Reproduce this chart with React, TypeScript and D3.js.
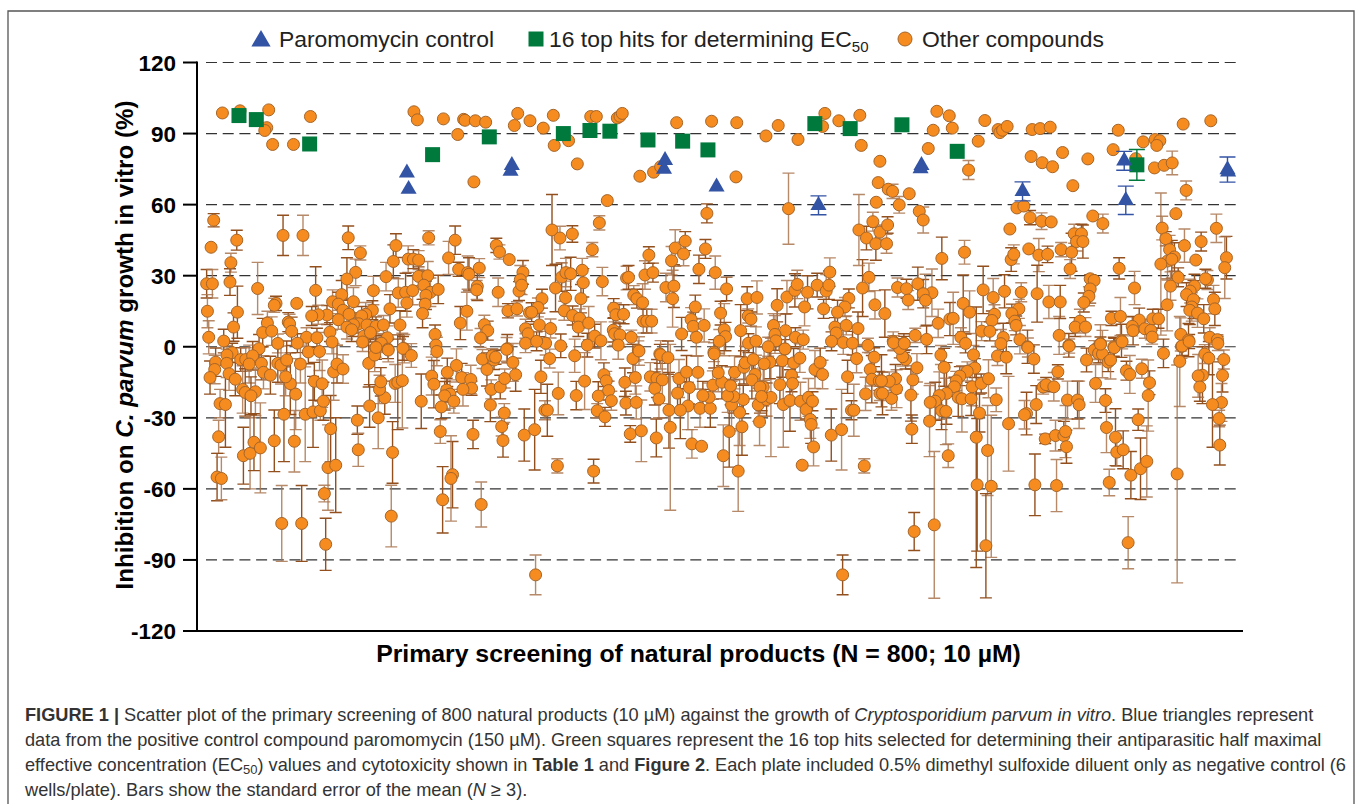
import React from "react";
import * as d3 from "d3";

type P = [number, number, number];

const yTickValues = [120, 90, 60, 30, 0, -30, -60, -90, -120];
const paromomycinX = [161, 162.3, 241.5, 240.5, 359, 358.2, 398.5, 476.7, 555.7, 555, 633.2, 711.2, 712.4, 790.4, 790.9];
const paromomycinY = [73.4, 66.5, 76.6, 74.2, 78.7, 75, 67.5, 59.7, 76.6, 75.2, 65.6, 78.5, 61.8, 74.8, 73.8];
const paromomycinErr = [0, 0, 0, 0, 0, 0, 0, 4, 0, 0, 4, 4, 6, 5.3, 0];
const topHitX = [32.2, 45.5, 86.4, 180.7, 224.2, 281, 301.4, 316.7, 345.9, 372.5, 391.9, 473.9, 501, 540.7, 583.1, 720.9];
const topHitY = [97.6, 95.9, 85.6, 81.1, 88.6, 90, 91.3, 91, 87.3, 86.8, 83.1, 94.2, 92.1, 93.7, 82.5, 76.8];
const topHitErr = [0, 0, 0, 0, 0, 0, 0, 0, 0, 0, 0, 0, 0, 0, 0, 6.5];

const otherHighValues: P[] = [
[19.5,98.7,0],[33,99.6,0],[55,100,0],[53.5,92.5,0],[52,91.3,0],[58,85.4,0],[74,85.4,0],[87,97.2,0],[166.4,99.2,0],[169,95.8,0],[189,96.2,0],[204.5,96,0],[205.6,95.6,0],[213.5,95.4,0],[221.4,94.8,0],[200,89.6,0],[246,98.5,0],[243.4,93.4,0],[255.4,95.4,0],[212.4,69.6,0],
[265.6,92.3,0],[273.3,97.7,0],[302,97.2,0],[306.3,97.2,0],[322.4,96.6,0],[324.4,97.3,0],[326.2,98.5,0],[274,85,0],[285,87,0],[291.7,77.2,0],[339.7,72,0],[350.2,73.7,0],[355.6,76,0],[367.9,94.6,0],[394.7,95.2,0],[414,94.6,0],[436.4,89,0],[445.8,93.4,0],[461,87.5,0],[479.8,93,0],[481.6,98.5,0],[492.3,95.4,0],[508.4,97.7,0],[509.5,85,0],[523.8,78.3,0],[522.5,69.3,0],[521,61,0],[413.4,71.7,0],[314.7,61.7,0],
[567.5,99.4,0],[577,97.5,0],[564.7,91.4,0],[579.3,92.3,0],[604.3,95.5,0],[560.9,83.7,0],[599.2,86.8,0],[591.8,74.6,4],[614.5,91.7,0],[615.8,90.4,0],[617.9,91.4,0],[621.4,93,0],[640.6,91.7,0],[646.7,92.1,0],[654.4,92.7,0],[639.8,80.3,0],[648.3,77.7,0],[656.2,76,0],[663.9,82,0],[683.3,79.3,0],[671.8,68,0],[702.7,83.2,0],[706.6,91.4,0],[756.4,94,0],[777.6,95.4,0],[725.7,86.5,0],[734.9,87.5,0],[738.5,87,0],[736.2,85,0],[734.4,75.5,0],[741.8,76.6,0],[748,77.6,5],[720.1,79.4,0],[758.7,66,4],
];

const otherLeftUpper: P[] = [
[12.8,53.4,2.8],[10.8,42,0],[30.5,45,4.2],[26,35.5,4],[66,47,8.5],[81.3,47,8.5],[116,46,5],[125.3,39.6,3],[152.6,42.7,5],[177.7,46,3],[198,45,6],[193,37.5,7],[150.6,36,7],[162,37,5.6],[166,37,4],[170,36.6,4],[229.6,42.8,3],[232,40,3],[239.5,36.8,0],[121.7,31.4,5.6],[115,28.6,9],[145,29.6,6],[200.7,32.7,3],[207.6,31.3,7],[208.6,30.6,7],[216.5,33.2,4],[215,25.5,6],[214.5,24,4],[250,31.4,5],[248,28.3,6],
[7.4,26.6,6],[11.8,26.6,6],[25.3,27.3,5.6],[46.5,24.6,11],[91,23.8,10],[135.3,23.7,6],[170,29.7,4],[177,30,6],[174,26,6],[179,23,6],[185,24.2,6],[154.4,22.7,6],[160,23,8],[165.4,23.7,6],[175.6,21.7,6],[175,18,6],[173,14,6],[231,23,6],[247,23.5,4],[249,26,4],[255,14.4,0],[161,18.5,6],[148,16,6],[120,19,6],[111,22,6],[104,19,5],[108.4,18,5],[112,15.4,5],[116.6,13.7,6],[108.4,11.4,4],[99.7,13.4,4],[93,13.5,4],[88,13,4],[76.5,18.3,0],[60.6,18.3,3],[59.3,17.5,3],[31,14.6,11],[8,15,7],[28,8.3,6],[54,10,5],[50.4,6,6],[57.3,6.6,6],[70,10.4,4],[71,9.7,4],[72.6,6.5,6],[9,4,7],[20.5,2.4,5],[62,1.4,4],[47.6,-0.8,6],[207,15,8],[202,10,7],[220.4,9.3,4],[223,6.8,4],[217.5,3.7,4],[238.5,15.2,3],[245.4,16,3],[134.5,15.4,4],[129.4,13.7,5],[126.3,13,4],[124,9.7,4],[120,9.3,5],[115,8.3,5],[118.6,7.2,5],[130.4,9.2,4],[137.3,8.6,4],[143,9.2,4],[155.7,9.2,6],[146,3.8,5],[102,6.2,4],[84,4,4],[92,3.8,4],[103.6,2,5],[77,1.5,4],[128,4.5,4],[133,6,4],[127,2,4],[137,-0.4,4],[141.4,1.5,4],[146.5,-1,4],[159,-0.8,6],[182.6,5.2,4],[183.3,0.7,4],[238,-0.8,6],[252,7.6,4],[254,5.5,4],[252,1.5,4],
];

const otherLeftLower: P[] = [
[27,-2.5,4],[23,-3.5,4],[14.3,-6.5,6],[13.6,-9.6,6],[10,-13,7],[22.8,-7,6],[33.5,-5.4,5],[37.4,-5.4,5],[42.7,-3.8,6],[40,-7.3,8],[49.4,-7,7],[51,-10.8,7],[56.3,-12,8],[24.6,-11.4,7],[29.4,-13.7,7],[35,-18,10],[37,-19.3,10],[44.8,-19,10],[41.4,-20.7,8],[17.7,-24,6],[21.8,-24.4,18],[16.6,-38,7],[15.4,-55,10],[18.7,-55.6,9],[35.6,-46,12],[40.7,-45,15],[43.7,-40.3,12],[48.6,-42.7,19],[59.3,-39.7,13],[74.7,-39.9,13],[66.7,-28.5,20],[83,-28.5,20],[89,-27.5,15],[94.6,-27,4],[97,-23,8],[75.7,-20,15],[71.6,-15.6,13],[68,-12.7,8],[62,-7,8],[64.4,-7.7,8],[68.8,-5.6,8],[79.3,-7.3,8],[85.4,-2.2,5],[94,-2,8],[90,-14.6,8],[96,-15.6,10],[102.5,-34.6,14],[100.5,-51,18],[106.4,-50,20],[97.7,-62,3.5],[98.7,-83.4,11],[65,-74.6,16],[80.3,-74.6,16],[104.8,-10.6,12],[107.4,-7.3,8],[112,-9.4,6],[123,-31,6],[123.7,-43.5,7],[150,-44.6,13],[149,-71.5,13],[132.4,-25,9],[139,-30,13],[144,-21.5,7],[140,-18,6],[141,-14.8,6],[152,-15.5,8],[154,-15,20],[157.5,-14.3,20],[131.7,-7,10],[136.3,-3.5,7],[137.3,-0.3,5],[146.7,-1.4,5],[158,-0.7,5],[164.4,-3.7,5],[172,-23,11.5],[180,-12.4,8],[181.7,-15.8,10],[184,-2,6],[192,-10.8,6],[199,-7.9,7],[203,-13,6],[210,-13.8,6],[210.6,-17.5,3],[204,-18,7],[191.5,-18.3,5],[194,-20,6],[190,-20.7,6],[197,-23,5],[187.4,-25.4,5],[186.6,-35.8,5],[196,-54,14],[194.8,-55.6,18],[188.4,-64.6,14],[218,-66.6,9.5],[211.7,-37,6],[233.7,-33.7,4],[234.7,-39.6,7],[235.7,-28,4],[225,-24.6,7],[225.7,-18,4],[232.6,-17,5],[236,-13.4,4],[244.4,-11.8,7],[242.3,-6.6,8],[222.4,-9.6,7],[219,-5.2,4],[227.8,-5.6,4],[226.5,-3.8,3],[229,-4.4,3],[237.5,-1.1,5],[251,-37.3,11],
];

const otherMiddleUpper: P[] = [
[308.6,52.3,3],[391.1,56.3,4],[453.7,58.3,15],[272.3,49.3,15],[278.4,45.9,5],[287.9,47.6,3.5],[303.2,41,3],[346.6,38.7,3.5],[366.8,41.7,7.7],[374.5,44.6,4],[373.2,39.2,5],[390,41.3,4],[364,36.3,6],[385,32.7,6],[397.5,31.3,7],[279.7,29.4,6],[283,31.3,6],[286.6,30.8,7],[295.5,32.3,5],[296.3,27,6],[310.9,27.5,6],[275,24.8,10],[282.7,20.7,7],[294.5,20.3,6],[329.5,29,5],[331,29.3,5],[343.6,30.3,6],[349.7,31.3,4],[359.7,25,6],[365.8,25.6,9],[364.8,20.3,12],[406.2,24.4,5],[335,21.8,4],[337.4,20.3,4],[341.8,18.6,8],[422,20.3,5],[429.5,20.8,7],[445,17.5,7],[452.5,21,7],[458.6,23.8,7],[460.4,26.3,6],[468.3,23,7],[466,16.8,8],[475.7,26,5],[482.6,23.5,7],[484.7,26,6],[485.4,31.5,6],[480.6,16,4],[515.4,29.3,6],[510.5,24.8,12],[507.7,49.3,15],[513.5,45.9,5],[518.4,52.8,4],[520.7,43.5,7],[523.8,48.4,3],[500,20.4,4],[497,16.8,4],[491.3,14.6,5],[520,17.7,6],[264.6,20.3,4],[261.5,16.6,4],[256.7,14.6,4],[281.7,15.2,4],[288.1,13.2,4],[293.5,12,4],[292.5,8.3,4],[300.4,10,7],[262.6,9.2,5],[271.2,7.7,4],[319.6,16.3,4],[321.3,13.5,5],[327.2,13.7,4],[342.3,10.8,5],[345,10.8,5],[348.7,10.8,5],[382.2,16.8,5],[379,11.5,5],[380.6,8.6,6],[389,9,7],[371.7,5.4,7],[383,4,8],[401.6,14.2,5],[404.4,7.2,11],[405.4,4.3,6],[400.6,2.3,5],[417,6.8,11],[422.8,13,3],[424.9,11.7,3],[442.2,9,5],[451.4,6.8,7],[443.3,5.2,8],[459,4,4],[465,3,4],[423,1.5,4],[428.7,2.4,6],[444,2.5,4],[438.1,0,4],[489.3,8.3,4],[498,9,4],[507,7.7,7],[490.3,5.8,4],[486.7,2.3,4],[495.7,1.8,5],[502.8,1.5,5],[514.6,0.6,3],[319.3,7,5],[320.3,5.5,5],[324.4,5,5],[333.1,4,3],[305,4.5,5],[309.8,2.5,8],[299.4,0.7,5],[323.1,0.7,6],[279,0.4,5],[267.4,1.5,5],[260.5,2.3,4],[338.5,-1.5,4],[355,-3,4],[396.5,-2.3,4],[451,-1,4],
];

const otherMiddleLower: P[] = [
[270.5,-5,4],[263.8,-12.7,7],[277.1,-19.7,9],[259,-35,17],[266.9,-26.8,4],[268.7,-26.8,11],[289.7,-3.8,7],[290.9,-20.6,6],[297.3,-14.5,12],[312.1,-11.8,5],[313.9,-14.4,4],[315.7,-18.5,4],[317.8,-22.8,4],[307.8,-20.8,6],[307,-27,3],[312.9,-29.6,4],[276.4,-50.3,3],[304.2,-52.5,5],[259.7,-96.3,8.4],[495.2,-96.3,8.4],[511.8,-50.3,3],[328.2,-15,6],[336.2,-13,7],[334.4,-5,6],[339,-1.8,6],[329,-23.8,5],[336.9,-23.5,7],[332.3,-36.8,3.5],[340.8,-35.5,13],[352.3,-38.5,8],[355.6,-3.4,6],[361.2,-4.6,7],[347.7,-12.7,6],[352.8,-13.4,8],[356.9,-14,10],[351.2,-17.6,7],[354.3,-22,8],[362,-26.8,16],[363,-34,35],[368.6,-19.6,7],[369.7,-13.4,8],[375.5,-10.7,7],[384.2,-10.8,7],[377.6,-17.2,7],[376.6,-25,10],[370.7,-26.8,12],[385.8,-26,8],[393.7,-26,8],[392.9,-21.3,6],[388,-20.6,6],[395.7,-16.2,6],[402.6,-15,7],[399.8,-11,8],[396.7,-3,6],[379.6,-41,6],[387,-42,0],[403.7,-46,13],[408.2,-35.8,15],[415.1,-52.5,17],[418,-33.8,12],[416.2,-27.7,14],[419,-22.3,6],[410,-24.6,10],[411.6,-21,7],[407,-20.7,7],[409.3,-16.5,8],[412.3,-10.8,7],[419.5,-8.7,7],[420.5,-6.8,7],[426.7,-5.4,7],[428,-11.7,7],[425.6,-14,8],[434.3,-17,8],[431.8,-17,11],[430.5,-24.5,7],[436.9,-22.3,7],[440.2,-21.4,25],[433,-21,6],[431.5,-31.7,10],[439.4,-6.5,7],[435,-7.2,7],[448.9,-5.9,7],[451,-0.9,6],[457.6,-6.8,6],[462.4,-4.8,6],[456,-12,7],[456.8,-15.5,7],[447.1,-16,8],[449.7,-24.4,18],[454.8,-22.7,13],[462.9,-23,8],[467.3,-26.5,4],[469,-21.4,8],[472.1,-23,4],[470.4,-30.7,8],[471.1,-32.8,8],[472.9,-42.3,8],[464.2,-50,0],[474,-9.6,8],[478,-6.6,6],[479.8,-11.7,6],[486.5,-37.3,11],[494.4,-35,17],[502,-26.8,4],[503.8,-26.8,11],[499,-12.7,7],[505.9,-5,6],[519.4,-4.4,4],[516.4,-9.6,7],[517.6,-13.7,10],[512.8,-19.9,7],[523.3,-14.4,4],[523.8,-19.7,3],
];

const otherRightUpper: P[] = [
[530.2,66.5,0],[533.5,65.6,3],[546.3,64.6,0],[538.6,59.9,3.5],[554,57.2,0],[557,53.5,5.5],[529.7,51.4,3.5],[528.9,43.5,4],[628.9,58.6,0],[634.2,59.4,0],[639,54.5,3],[647.8,53,3.5],[655.2,52.7,0],[623.5,49.7,0],[638,41.3,0],[645.7,38.7,7],[652.4,39,3.5],[662.8,41,3],[670.8,39.9,8],[672.8,47.7,4],[678.4,47.7,4],[674.6,44.4,4],[679.5,44.4,7],[669.7,32.8,4],[687.1,55.2,0],[694.8,52,4],[750.8,56.2,0],[740.3,50.1,5],[743.1,45.6,3],[781.9,50,6],[789.6,37.6,9],[788.3,33.4,13],[770.2,44.4,4],[757.4,42.7,7],[766.1,36.6,0],[746,41,6],[749.7,37.9,6],[744.4,36.2,8],[747.7,36.9,8],[739.3,34.9,30],[571.3,37.3,9],[588.7,39.9,5],[624.5,36.8,5],[626.5,39,4],[707.3,33.1,4.5],[719.1,24.8,7],[752.6,29.3,4],[746.7,25.6,6],[765.1,25.6,5],[761.8,23.5,5],[759,22,5],[775,28.2,4],[773.5,28.7,4],[779.7,19.9,6],[780.7,16,7],[744.1,17.7,11],[764.3,19.9,8],[763,16.8,6],[761.5,15.4,6],[767.4,14.2,6],[772.2,11.8,6],[776.8,4,4],[782.7,3,2],[754.6,5.2,7],[760.5,2.8,7],[755.1,0.1,5],
[685.1,28.7,0],[688.1,28,0],[685.1,24.4,6],[684.1,21.3,4],[680.2,18.7,4],[677.2,10.8,5],[673.6,8.3,4],[681.5,8.3,4],[701.4,12,3],[708.3,12.8,8],[722.7,11.3,5],[717.3,8.6,4],[718,6.8,6],[727,7.6,4],[733.1,11.8,4],[731.6,6.9,4],[737.5,11.8,4],[732.6,4.1,3],[709.1,2.5,7],[693,1.3,8],[703.2,0,4],[661.3,4.8,8],[668.7,0.6,5],
[537.3,25,4],[544.2,24.5,4],[545.5,19.7,4],[552.9,26.6,7],[563.7,22.8,10],[557,22.4,6],[558.8,19.6,11],[527.6,14,10],[568.5,9.9,6],[577.5,11.7,7],[580,12,11],[587.7,18.3,12],[592.6,14.6,9],[603,24,10],[610.7,20.8,8],[619.4,23.4,7],[632.2,23,4],[644.4,22.4,12],[653.4,18.9,7],[662.1,18.9,7],[611.7,13.7,4],[609.7,11.1,4],[630.4,16,4],[625,14,4],[627.3,10.8,4],[628.3,9,4],[601.8,6.6,4],[608.1,6.5,4],[585.9,4,4],[589.5,1.4,4],[550.9,4.8,3],[559.6,3.1,6],[534,2.3,4],[542.2,1.5,4],[631.2,3,6],[618.4,3.9,6],[616.6,1.3,6],[637,0,7],
];

const otherRightLower: P[] = [
[570.6,-3.5,4],[573.1,-8.7,8],[595.6,-3.4,4],[596.6,-9,4],[590.8,-10.4,4],[585.1,-12.4,4],[582.3,-14.4,4],[581,-16.9,4],[594.6,-16.9,8],[601.5,-15.5,4],[607.1,-13.5,8],[574.9,-19.7,13],[569.3,-20.6,10],[566.2,-23,8],[562.4,-23.5,8],[583.9,-21.4,8],[586.7,-22,14],[593.8,-22,7],[613,-22.4,5],[571.1,-27,8],[574.4,-27.3,14],[600.2,-28,8],[561.9,-31.4,15],[597.7,-38.2,55],[606.4,-43.8,19],[598.4,-58.3,28],[609.2,-58.9,30],[605.1,-84,22],[565.5,-75.2,31],[550.1,-78,8],[576.2,-46,5],[548.3,-34.8,6],[532.7,-21.8,5],[525.8,-19.7,9],[536.6,-17.7,8],[547.6,-20.4,11],[549.1,-14,6],[535.8,-13.5,6],[531,-14.6,4],[525,-14.4,11],[552.2,-8.9,6],[543.5,-5.4,4],[541.2,-4.2,4],[539,-0.7,4],[534.3,1.7,3],[542.5,1.4,3],
[614,-3.9,4],[620.7,-4.4,7],[637.3,-0.3,4],[641.9,-5.2,6],[622.5,-32.5,20],[636.3,-28.2,9],[634.7,-28.7,6],[643.7,-24.4,8],[649,-17,3],[651.3,-16,3],[657.2,-16.9,6],[660.3,-10.6,3],[667.7,-22.5,8],[675.4,-22.5,8],[676.6,-24.5,10],[642.7,-58.3,13],[659.3,-58.6,11],[650.6,-38.9,2],[658.5,-37.5,6.5],[664.9,-37.5,6],[666.2,-35.8,11],[666.9,-42.2,7],[669,0.3,3],[682.3,-5.6,5],[689.2,-15.5,8],[696.8,-22.7,5],[688.2,-1.4,4],[691.5,-2.8,4],[694.5,-3.1,10],[698.9,-6.5,4],[700.7,-5.6,8],[703.5,-0.4,4],[709.6,2.1,3],[693,1.1,3],[697.6,-34.1,10.6],[704.5,-38.2,12],[705.5,-44.5,6],[710.4,-43.5,8],[699.7,-57.3,5.6],[716.3,-54.2,10],[714.2,-82.7,11],[723.7,-51.5,13],[728.5,-48.4,15],[721.9,-30.8,4.5],[729.6,-20.6,15],[730.6,-15.2,5],[724.7,-9.3,4],[712.9,-10.1,4],[715.5,-11.7,8],[741.3,-2.8,6],[753.8,-6.2,19],[755.6,0.3,4],[751.8,-53.7,46],[771.2,-12,12],[767.9,-12.3,9],[769.2,-17,6],[773,-3.1,4],[776.1,-4.8,7],[787.6,-5.4,4],[786.6,-12.1,7],[785.8,-23.5,8],[778.9,-24.4,18],[784,-30.3,3.5],[784.5,-41.5,8.4],[783,1.4,3],[761,2.2,3],
];

const otherCompounds: P[] = [
  ...otherHighValues, ...otherLeftUpper, ...otherLeftLower,
  ...otherMiddleUpper, ...otherMiddleLower, ...otherRightUpper, ...otherRightLower,
];

const x = d3.scaleLinear().domain([0, 800]).range([197, 1240]);
const y = d3.scaleLinear().domain([-120, 120]).range([631, 62.5]);

const FONT = "'Liberation Sans', Arial, sans-serif";
const triPath = d3.symbol().type(d3.symbolTriangle).size(112)() as string;
const legendTriPath = d3.symbol().type(d3.symbolTriangle).size(160)() as string;
const squarePath = d3.symbol().type(d3.symbolSquare).size(225)() as string;
const legendSquarePath = d3.symbol().type(d3.symbolSquare).size(225)() as string;

function ErrBar({ cx, v, e, color, opacity, cap = 6 }: { cx: number; v: number; e: number; color: string; opacity?: number; cap?: number }) {
  if (!e) return null;
  const top = y(v + e), bot = y(v - e), px = x(cx);
  const d = `M${px},${top}V${bot}M${px - cap},${top}H${px + cap}M${px - cap},${bot}H${px + cap}`;
  return <path d={d} fill="none" stroke={color} strokeWidth={1.4} opacity={opacity} />;
}

export default function App() {
  return (
    <svg width={1357} height={804} style={{ position: "absolute", left: 0, top: 0, display: "block", background: "#fff" }}>
      <path d="M8,804V11H1354V804" fill="none" stroke="#555" strokeWidth={1.3} />

      {/* grid */}
      {yTickValues.filter((t) => t !== -120).map((t) => (
        <line key={t} x1={206} x2={1240} y1={y(t)} y2={y(t)} stroke="#333" strokeWidth={1.2} strokeDasharray="11 5.7" />
      ))}

      {/* axes */}
      <line x1={197} x2={197} y1={y(120) - 1} y2={y(-120) + 1} stroke="#000" strokeWidth={2} />
      <line x1={183} x2={1243} y1={y(-120)} y2={y(-120)} stroke="#000" strokeWidth={2} />
      {yTickValues.map((t) => (
        <g key={t}>
          <line x1={183} x2={197} y1={y(t)} y2={y(t)} stroke="#000" strokeWidth={2} />
          <text x={176} y={y(t) + 8} textAnchor="end" fontFamily={FONT} fontWeight="bold" fontSize={22.5} fill="#000">{t}</text>
        </g>
      ))}

      {/* error bars */}
      {otherCompounds.map(([a, b, e], i) => (
        <ErrBar key={i} cx={a} v={b} e={e} color={i % 2 ? "#93501f" : "#a9744e"} opacity={i % 2 ? 1 : 0.85} />
      ))}
      {/* circles */}
      {otherCompounds.map(([a, b], i) => (
        <circle key={i} cx={x(a)} cy={y(b)} r={6} fill="#f68b1f" stroke="#a5662a" strokeWidth={1} />
      ))}
      {/* top hits */}
      {topHitX.map((a, i) => (
        <g key={i}>
          <ErrBar cx={a} v={topHitY[i]} e={topHitErr[i]} color="#00793d" cap={8} />
          <path d={squarePath} transform={`translate(${x(a)},${y(topHitY[i])})`} fill="#00793d" />
        </g>
      ))}
      {/* paromomycin */}
      {paromomycinX.map((a, i) => (
        <g key={i}>
          <ErrBar cx={a} v={paromomycinY[i]} e={paromomycinErr[i]} color="#3353a4" cap={8} />
          <path d={triPath} transform={`translate(${x(a)},${y(paromomycinY[i])})`} fill="#3353a4" />
        </g>
      ))}

      {/* axis titles */}
      <text transform="translate(133,345) rotate(-90)" textAnchor="middle" fontFamily={FONT} fontWeight="bold" fontSize={24.2} fill="#000">
        Inhibition on <tspan fontStyle="italic">C. parvum</tspan> growth in vitro (%)
      </text>
      <text x={698.5} y={662} textAnchor="middle" fontFamily={FONT} fontWeight="bold" fontSize={24.8} fill="#000">
        Primary screening of natural products (N = 800; 10 µM)
      </text>

      {/* legend */}
      <path d={legendTriPath} transform="translate(261,41)" fill="#3353a4" />
      <text x={279} y={47} fontFamily={FONT} fontSize={22.9} fill="#222">Paromomycin control</text>
      <path d={legendSquarePath} transform="translate(536,39)" fill="#00793d" />
      <text x={549} y={47} fontFamily={FONT} fontSize={22.9} fill="#222">
        16 top hits for determining EC<tspan dy={5} fontSize={15}>50</tspan>
      </text>
      <circle cx={905} cy={39} r={7} fill="#f68b1f" stroke="#a5662a" strokeWidth={1} />
      <text x={922} y={47} fontFamily={FONT} fontSize={22.9} fill="#222">Other compounds</text>

      {/* caption */}
      <g fontFamily={FONT} fontSize={18.2} fill="#333">
        <text x={25} y={721}>
          <tspan fontWeight="bold">FIGURE 1 |</tspan> Scatter plot of the primary screening of 800 natural products (10 µM) against the growth of <tspan fontStyle="italic">Cryptosporidium parvum in vitro</tspan>. Blue triangles represent
        </text>
        <text x={25} y={746}>
          data from the positive control compound paromomycin (150 µM). Green squares represent the 16 top hits selected for determining their antiparasitic half maximal
        </text>
        <text x={25} y={771}>
          effective concentration (EC<tspan dy={3} fontSize={13}>50</tspan><tspan dy={-3}>) values and cytotoxicity shown in </tspan><tspan fontWeight="bold">Table 1</tspan> and <tspan fontWeight="bold">Figure 2</tspan>. Each plate included 0.5% dimethyl sulfoxide diluent only as negative control (6
        </text>
        <text x={25} y={796}>
          wells/plate). Bars show the standard error of the mean (<tspan fontStyle="italic">N</tspan> ≥ 3).
        </text>
      </g>
    </svg>
  );
}
